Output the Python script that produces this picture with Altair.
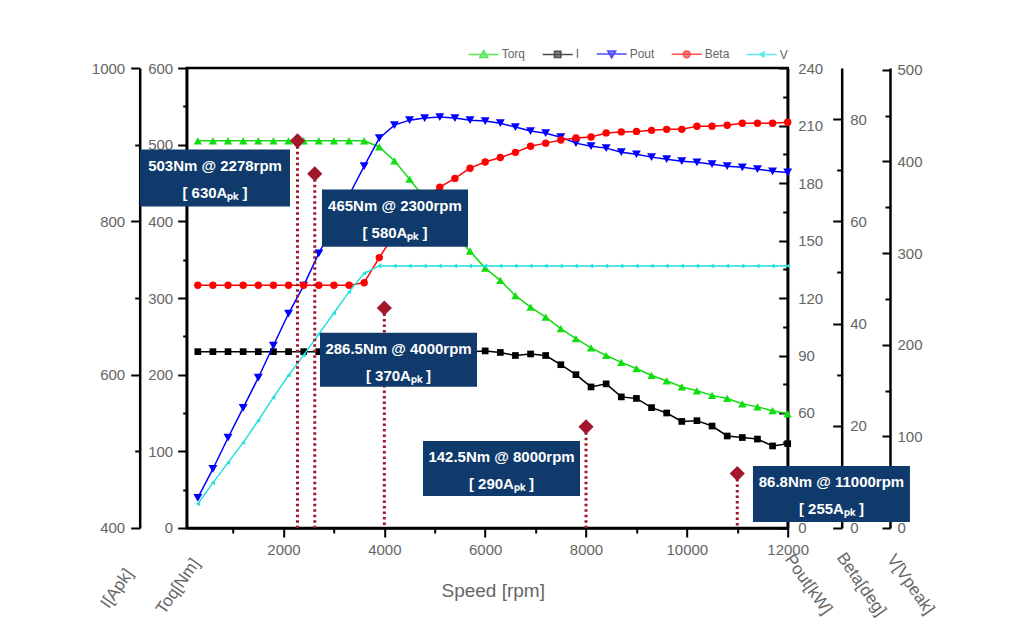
import altair as alt
import pandas as pd

# ---------------- data ----------------
speed = [300, 600, 900, 1200, 1500, 1800, 2100, 2400, 2700, 3000,
         3300, 3600, 3900, 4200, 4500, 4800, 5100, 5400, 5700, 6000,
         6300, 6600, 6900, 7200, 7500, 7800, 8100, 8400, 8700, 9000,
         9300, 9600, 9900, 10200, 10500, 10800, 11100, 11400, 11700, 12000]

torque = [505, 505, 505, 505, 505, 505, 505, 505, 505, 505,
          505, 505, 497, 479, 455, 430, 405, 382, 361, 339,
          323, 303, 288, 275, 260, 247, 235, 225, 216, 208,
          199, 192, 184, 179, 173, 169, 162, 158, 153, 149]

current = [630, 630, 630, 630, 630, 630, 630, 630, 630, 630,
           630, 630, 630, 630, 630, 630, 630, 630, 630, 631,
           629, 625, 627, 625, 613, 600, 584, 588, 571, 569,
           557, 550, 539, 540, 533, 520, 518, 516, 507, 510]

pout = [15.7, 30.8, 47.1, 62.7, 78.4, 95.2, 111.9, 126.5, 143.3, 158.4,
        173.6, 188.8, 203.4, 210.2, 212.8, 213.9, 214.4, 213.9, 212.8, 212.3,
        211.2, 209.2, 207.1, 206.0, 203.9, 200.8, 199.2, 198.2, 196.1, 195.0,
        193.5, 192.4, 191.4, 190.8, 189.8, 188.8, 188.2, 187.2, 186.1, 185.5]

beta = [47.5, 47.5, 47.5, 47.5, 47.5, 47.5, 47.5, 47.5, 47.5, 47.5,
        47.5, 48.0, 52.9, 57.5, 61.5, 64.5, 66.7, 68.4, 70.4, 71.6,
        72.5, 73.5, 74.7, 75.3, 75.9, 76.3, 76.5, 77.3, 77.5, 77.6,
        77.8, 78.0, 78.0, 78.6, 78.6, 78.8, 79.2, 79.2, 79.2, 79.4]

voltage = [26.3, 49.3, 71.3, 93.2, 117.3, 142.5, 166.7, 188.6, 211.6, 234.6,
           257.7, 278, 286, 286, 286, 286, 286, 286, 286, 286,
           286, 286, 286, 286, 286, 286, 286, 286, 286, 286,
           286, 286, 286, 286, 286, 286, 286, 286, 286, 286]

# annotations (operating points)
ann_speed = [2278, 2620, 4000, 8000, 11000]
ann_torque = [505, 462, 287, 132, 71]
ann_line1 = ["503Nm @ 2278rpm", "465Nm @ 2300rpm", "286.5Nm @ 4000rpm",
             "142.5Nm @ 8000rpm", "86.8Nm @ 11000rpm"]
ann_line2 = ["[ 630A\u209a\u2096 ]", "[ 580A\u209a\u2096 ]", "[ 370A\u209a\u2096 ]",
             "[ 290A\u209a\u2096 ]", "[ 255A\u209a\u2096 ]"]
box_left = [-846, 2763, 2724, 4767, 11311]
box_right = [2129, 5659, 5838, 7881, 14425]
box_top = [493.6, 441.4, 254.6, 113.6, 81.0]
box_bottom = [419.2, 367.0, 184.1, 41.8, 7.8]

series_names = ["Torq", "I", "Pout", "Beta", "V"]
series_colors = ["#11dd11", "#000000", "#0000ff", "#ff0000", "#22e0e0"]
legend_paths = [
    "M-3.75,0L3.75,0M-1,0.8L0,-0.95L1,0.8Z",
    "M-3.75,0L3.75,0M-0.8,-0.8L0.8,-0.8L0.8,0.8L-0.8,0.8Z",
    "M-3.75,0L3.75,0M-1,-0.8L0,0.95L1,-0.8Z",
    "M-3.75,0L3.75,0M-0.85,0A0.85,0.85,0,1,0,0.85,0A0.85,0.85,0,1,0,-0.85,0Z",
    "M-3.75,0L3.75,0M0.6,-0.6L-0.6,0L0.6,0.6Z",
]

df = pd.DataFrame({"speed": speed, "Torq": torque, "I": current,
                   "Pout": pout, "Beta": beta, "V": voltage})
ann = pd.DataFrame({
    "speed": ann_speed, "torque": ann_torque,
    "line1": ann_line1, "line2": ann_line2,
    "left": box_left, "right": box_right, "top": box_top, "bottom": box_bottom,
})
ann["center"] = (ann["left"] + ann["right"]) / 2

# ---------------- styling ----------------
W, H = 601, 460
GRAY = "#666666"
FONT = "Liberation Sans"
NARROW = "Liberation Sans Narrow, Arial Narrow, Liberation Sans"

xs = alt.Scale(domain=[80, 12000], nice=False, zero=False)


def lab_axis(orient, offset, values, title, tx, ty, angle, ticks, pad, tick_size=9):
    kw = dict(orient=orient, offset=offset, values=values, format="d", domain=True,
              domainColor="black", domainWidth=2.5, labels=True,
              labelFont=FONT, labelFontSize=15, labelColor=GRAY, labelPadding=pad,
              labelFlush=False, labelOverlap=False, grid=False,
              title=title, titleX=tx, titleY=ty, titleAngle=angle,
              titleAlign="center", titleBaseline="middle", titleFont=FONT,
              titleFontSize=17, titleFontWeight="normal", titleColor=GRAY)
    if ticks:
        kw.update(ticks=True, tickSize=tick_size, tickWidth=2, tickColor="black")
    else:
        kw.update(ticks=False)
    return alt.Axis(**kw)


def tick_axis(orient, offset, values, size):
    return alt.Axis(orient=orient, offset=offset, values=values, domain=False,
                    labels=False, ticks=True, tickSize=size, tickWidth=2,
                    tickColor="black", grid=False, title=None)


def series_group(field, domain, color, shape, size, axes, xaxes=(None, None, None)):
    ys = alt.Scale(domain=domain, nice=False, zero=False)
    base = alt.Chart(df)
    line = base.mark_line(color=color, strokeWidth=1.5).encode(
        x=alt.X("speed:Q", scale=xs, axis=xaxes[0]),
        y=alt.Y(f"{field}:Q", scale=ys, axis=axes[0]))
    pts = base.mark_point(filled=True, shape=shape, size=size, color=color,
                          opacity=1).encode(
        x=alt.X("speed:Q", scale=xs, axis=xaxes[1]),
        y=alt.Y(f"{field}:Q", scale=ys, axis=axes[1]))
    ghost = base.mark_line(strokeOpacity=0).encode(
        x=alt.X("speed:Q", scale=xs, axis=xaxes[2]),
        y=alt.Y(f"{field}:Q", scale=ys, axis=axes[2]))
    return alt.layer(line, pts, ghost).resolve_axis(x="independent", y="independent")


x_major = alt.Axis(orient="bottom", values=[2000, 4000, 6000, 8000, 10000, 12000],
                   format="d", domain=True, domainColor="black", domainWidth=2.5,
                   ticks=True, tickSize=9, tickWidth=2, tickColor="black",
                   labelFont=FONT, labelFontSize=15, labelColor=GRAY, labelPadding=6,
                   labelFlush=False, labelOverlap=False, grid=False,
                   title="Speed [rpm]", titleX=306, titleY=63, titleAlign="center",
                   titleBaseline="middle", titleFont=FONT, titleFontSize=19,
                   titleFontWeight="normal", titleColor=GRAY)
x_minor = tick_axis("bottom", 0, [1000, 3000, 5000, 7000, 9000, 11000], 5)

torq_g = series_group(
    "Torq", [0, 600], series_colors[0], "triangle-up", 70,
    (lab_axis("left", 0, [0, 100, 200, 300, 400, 500, 600], "Toq[Nm]", -9, 518, 305, True, 5),
     tick_axis("left", 0, [50, 150, 250, 350, 450, 550], 4),
     None),
    (x_major, x_minor, None))

i_g = series_group(
    "I", [400, 1000], series_colors[1], "square", 45,
    (lab_axis("left", 47, [400, 600, 800, 1000], "I[Apk]", -23, 520, 305, True, 6),
     tick_axis("left", 47, [500, 700, 900], 5),
     None))

pout_g = series_group(
    "Pout", [0, 240], series_colors[2], "triangle-down", 80,
    (lab_axis("right", 0, [0, 30, 60, 90, 120, 150, 180, 210, 240], "Pout[kW]", 20, 516, 55, False, 10),
     tick_axis("left", -W, [0, 30, 60, 90, 120, 150, 180, 210, 240], 9),
     tick_axis("left", -W, [15, 45, 75, 105, 135, 165, 195, 225], 5)))

beta_g = series_group(
    "Beta", [0, 90], series_colors[3], "circle", 55,
    (lab_axis("right", 54, [0, 20, 40, 60, 80], "Beta[deg]", 19, 516, 55, False, 8),
     tick_axis("left", -(W + 54), [0, 20, 40, 60, 80], 9),
     tick_axis("left", -(W + 54), [10, 30, 50, 70], 5)))

v_g = series_group(
    "V", [0, 502], series_colors[4], "triangle-left", 22,
    (lab_axis("right", 102.3, [0, 100, 200, 300, 400, 500], "V[Vpeak]", 20, 516, 55, False, 7),
     tick_axis("left", -(W + 102.3), [0, 100, 200, 300, 400, 500], 8),
     tick_axis("left", -(W + 102.3), [50, 150, 250, 350, 450], 5)))

# ---------------- annotations ----------------
ty = alt.Scale(domain=[0, 600], nice=False, zero=False)
abase = alt.Chart(ann)

rules = abase.mark_rule(color="#a0162c", strokeWidth=3, strokeDash=[2.5, 3]).encode(
    x=alt.X("speed:Q", scale=xs, axis=None),
    y=alt.Y("torque:Q", scale=ty, axis=None),
    y2=alt.datum(0))

diamonds = abase.mark_point(shape="diamond", filled=True, size=230,
                            color="#a3172d", opacity=1).encode(
    x=alt.X("speed:Q", scale=xs, axis=None),
    y=alt.Y("torque:Q", scale=ty, axis=None))

boxes = abase.mark_rect(color="#0f3a6b").encode(
    x=alt.X("left:Q", scale=xs, axis=None), x2="right:Q",
    y=alt.Y("top:Q", scale=ty, axis=None), y2="bottom:Q")

text1 = abase.mark_text(color="white", font=NARROW, fontSize=15, fontWeight="bold",
                        baseline="middle", align="center", dy=16).encode(
    x=alt.X("center:Q", scale=xs, axis=None),
    y=alt.Y("top:Q", scale=ty, axis=None),
    text="line1:N")

text2 = abase.mark_text(color="white", font=NARROW, fontSize=15, fontWeight="bold",
                        baseline="middle", align="center", dy=43).encode(
    x=alt.X("center:Q", scale=xs, axis=None),
    y=alt.Y("top:Q", scale=ty, axis=None),
    text="line2:N")

# ---------------- legend ----------------
leg = alt.Legend(orient="none", legendX=281, legendY=-20, direction="horizontal",
                 title=None, symbolSize=64, symbolStrokeWidth=1.5, symbolOffset=10,
                 labelOffset=12, labelFont=FONT, labelFontSize=12, labelColor=GRAY,
                 columnPadding=14)

legend_layer = alt.Chart(alt.Data(values=[])).mark_point(
    filled=True, size=64, strokeWidth=1.5).encode(
    shape=alt.Shape("series:N", scale=alt.Scale(domain=series_names, range=legend_paths), legend=leg),
    fill=alt.Fill("series:N", scale=alt.Scale(domain=series_names, range=series_colors), legend=leg),
    stroke=alt.Stroke("series:N", scale=alt.Scale(domain=series_names, range=series_colors), legend=leg))

chart = alt.layer(
    torq_g, i_g, pout_g, beta_g, v_g, rules, diamonds, boxes, text1, text2, legend_layer
).resolve_scale(y="independent").resolve_axis(x="independent", y="independent").properties(
    width=W, height=H,
    autosize=alt.AutoSizeParams(type="none"),
    padding={"left": 178.7, "top": 60, "right": 214, "bottom": 96},
    background="white",
).configure_view(stroke="black", strokeWidth=2.5)

chart.save("out.html", embed_options={"renderer": "svg", "actions": False})
